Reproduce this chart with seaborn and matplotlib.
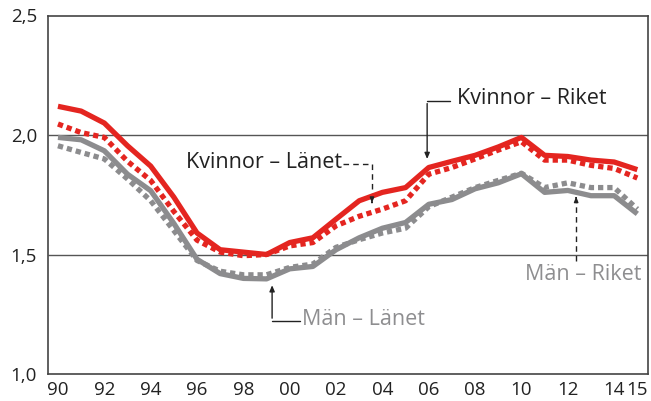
import matplotlib
matplotlib.use("Agg")
import matplotlib.pyplot as plt
import seaborn as sns
import pandas as pd

years = list(range(1990, 2016))
kvinnor_riket = [2.12, 2.10, 2.05, 1.955, 1.87, 1.74, 1.59, 1.52, 1.51, 1.50,
                 1.55, 1.57, 1.648, 1.725, 1.76, 1.78, 1.864, 1.89, 1.915, 1.95,
                 1.99, 1.915, 1.91, 1.895, 1.887, 1.855]
kvinnor_lanet = [2.046, 2.01, 1.99, 1.89, 1.81, 1.68, 1.56, 1.51, 1.495, 1.50,
                 1.536, 1.55, 1.62, 1.66, 1.69, 1.725, 1.836, 1.864, 1.90, 1.937,
                 1.972, 1.895, 1.895, 1.873, 1.86, 1.82]
man_lanet = [1.99, 1.98, 1.934, 1.836, 1.767, 1.63, 1.48, 1.42, 1.40, 1.398,
             1.44, 1.45, 1.52, 1.57, 1.61, 1.634, 1.71, 1.73, 1.775, 1.80,
             1.838, 1.76, 1.768, 1.746, 1.746, 1.67]
man_riket = [1.955, 1.927, 1.90, 1.816, 1.725, 1.60, 1.475, 1.43, 1.415, 1.415,
             1.446, 1.46, 1.53, 1.562, 1.59, 1.61, 1.70, 1.74, 1.78, 1.81,
             1.84, 1.78, 1.80, 1.78, 1.78, 1.69]
y_ticks = [1.0, 1.5, 2.0, 2.5]
y_labels = ["1,0", "1,5", "2,0", "2,5"]
x_ticks = [1990, 1992, 1994, 1996, 1998, 2000, 2002, 2004, 2006, 2008, 2010, 2012, 2014, 2015]
x_labels = ["90", "92", "94", "96", "98", "00", "02", "04", "06", "08", "10", "12", "14", "15"]

RED = "#E42520"
GRAY = "#8C8C8E"
TXT_GRAY = "#8E8E90"
DARK = "#222222"

sns.set_style("white")
plt.rcParams["font.family"] = ["Open Sans", "DejaVu Sans"]

fig = plt.figure(figsize=(6.51, 4.01), dpi=100)
ax = fig.add_axes([48/651, 1-374/401, 600/651, 358.5/401])

for yv in [1.5, 2.0]:
    ax.axhline(yv, color="#555555", lw=1.0, zorder=1)

dot = (0, (1.0, 0.75))
series = [
    (man_riket, GRAY, dot),
    (man_lanet, GRAY, "-"),
    (kvinnor_lanet, RED, dot),
    (kvinnor_riket, RED, "-"),
]
for vals, col, ls in series:
    df = pd.DataFrame({"year": years, "value": vals})
    sns.lineplot(data=df, x="year", y="value", ax=ax, color=col, lw=3.8,
                 linestyle=ls, zorder=3)
for l in ax.lines:
    l.set_dash_capstyle("butt")
    l.set_solid_capstyle("butt")

ax.set_xlim(1989.57, 2015.46)
ax.set_ylim(1.0, 2.5)
ax.set_xlabel("")
ax.set_ylabel("")
ax.set_yticks(y_ticks)
ax.set_yticklabels(y_labels)
ax.set_xticks(x_ticks)
ax.set_xticklabels(x_labels)
ax.set_xticks(years, minor=True)
ax.tick_params(axis="x", which="both", direction="in", length=5, width=1,
               color="#333333", pad=5, labelsize=13.5, labelcolor=DARK)
ax.tick_params(axis="y", length=0, pad=8, labelsize=13.5, labelcolor=DARK)
for s in ax.spines.values():
    s.set_color("#444444")
    s.set_linewidth(1.2)

fs = 15.5
arrow_k = dict(arrowstyle="-|>,head_length=0.35,head_width=0.15", color=DARK, lw=1)
arrow_s = dict(arrowstyle="-|>,head_length=0.3,head_width=0.12", color=DARK, lw=1)
dash = (0, (4, 3))
# Kvinnor – Riket
ax.text(2007.22, 2.154, "Kvinnor – Riket", fontsize=fs, color=DARK, va="center", ha="left")
ax.plot([2006.92, 2005.93], [2.142, 2.142], color=DARK, lw=1)
ax.annotate("", xy=(2005.93, 1.888), xytext=(2005.93, 2.143), arrowprops=arrow_k)
# Kvinnor – Länet
ax.text(1995.52, 1.883, "Kvinnor – Länet", fontsize=fs, color=DARK, va="center", ha="left")
ax.plot([2002.30, 2003.55], [1.879, 1.879], color=DARK, lw=1, ls=dash)
ax.plot([2003.55, 2003.55], [1.879, 1.73], color=DARK, lw=1, ls=dash)
ax.annotate("", xy=(2003.55, 1.704), xytext=(2003.55, 1.73), arrowprops=arrow_s)
# Män – Länet
ax.text(2000.53, 1.229, "Män – Länet", fontsize=fs, color=TXT_GRAY, va="center", ha="left")
ax.plot([2000.44, 1999.24], [1.221, 1.221], color=DARK, lw=1)
ax.annotate("", xy=(1999.24, 1.383), xytext=(1999.24, 1.222), arrowprops=arrow_k)
# Män – Riket
ax.text(2010.16, 1.417, "Män – Riket", fontsize=fs, color=TXT_GRAY, va="center", ha="left")
ax.plot([2012.36, 2012.36], [1.471, 1.73], color=DARK, lw=1, ls=dash)
ax.annotate("", xy=(2012.36, 1.754), xytext=(2012.36, 1.725), arrowprops=arrow_s)

fig.savefig("out.png", dpi=100)
